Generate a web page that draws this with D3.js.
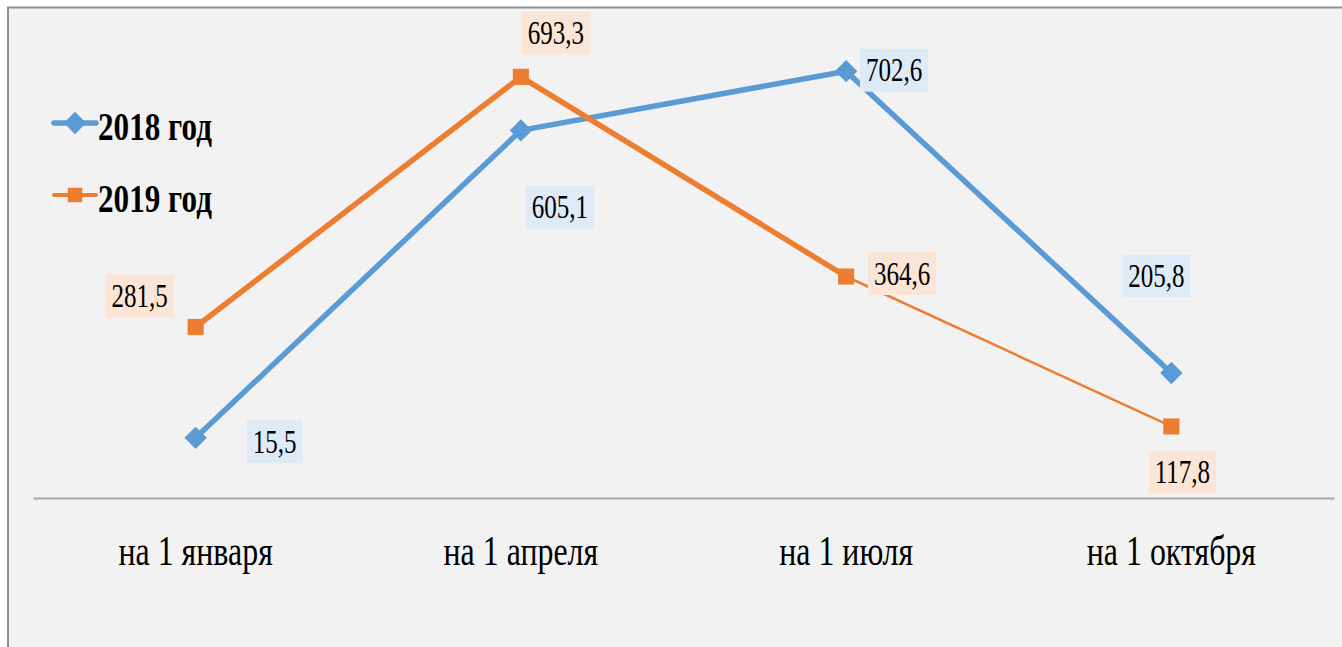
<!DOCTYPE html>
<html>
<head>
<meta charset="utf-8">
<script src="https://cdn.jsdelivr.net/npm/d3@7"></script>
<style>
  html, body { margin: 0; padding: 0; background: #fff; overflow: hidden; }
  svg { display: block; }
</style>
</head>
<body>
<div id="chart"></div>
<script>
// Chart data
const categories = ['на 1 января', 'на 1 апреля', 'на 1 июля', 'на 1 октября'];
const seriesNames = ['2018 год', '2019 год'];
// the first 2018 point is labelled 15,5 in the source but sits near 99 on the plot
const values2018 = [99, 605.1, 702.6, 205.8];
const values2019 = [281.5, 693.3, 364.6, 117.8];
const labels2018 = ['15,5', '605,1', '702,6', '205,8'];
const labels2019 = ['281,5', '693,3', '364,6', '117,8'];
const yDomain = [0, 800];

const width = 1342,
  height = 647,
  squeeze = 0.76,
  font = '"Liberation Serif", "Times New Roman", serif';

const seriesStyles = [
  {
    stroke: '#5b9bd5', fill: '#deebf7', marker: 'diamond', markerSize: 250,
    segWidths: [5.5, 5.5, 5.5],
    // label centre offsets from each point
    offsets: [[79, 4], [39, 77], [48, -1], [-15, -97]]
  },
  {
    stroke: '#ed7d31', fill: '#fbe5d6', marker: 'square', markerSize: 260,
    segWidths: [5.5, 5.5, 2.5],
    offsets: [[-56, -31], [35, -44], [56, -3], [11, 46]]
  }
];

const series = [
  {name: seriesNames[0], values: values2018, labels: labels2018},
  {name: seriesNames[1], values: values2019, labels: labels2019}
].map((s, i) => Object.assign({}, s, seriesStyles[i]));

const svg = d3.select('#chart').append('svg')
  .attr('width', width)
  .attr('height', height);

// chart area frame
svg.append('rect')
  .attr('x', 8)
  .attr('y', 7.5)
  .attr('width', width + 20)
  .attr('height', height + 20)
  .attr('fill', '#f2f2f2')
  .attr('stroke', '#8f8f8f')
  .attr('stroke-width', 2);

const x = d3.scaleBand()
  .domain(categories)
  .range([33, 1334]);

const y = d3.scaleLinear()
  .domain(yDomain)
  .range([498, 12]);

const cx = d => x(d) + x.bandwidth() / 2;

// category axis
const xAxis = d3.axisBottom(x).tickSize(0).tickSizeOuter(0);
const axisG = svg.append('g')
  .attr('transform', 'translate(0,' + y(0) + ')')
  .call(xAxis);

axisG.select('.domain')
  .attr('stroke', '#a6a6a6')
  .attr('stroke-width', 2);

axisG.selectAll('.tick text')
  .attr('y', 67)
  .attr('dy', 0)
  .attr('transform', 'scale(' + squeeze + ',1)')
  .attr('font-family', font)
  .attr('font-size', 42)
  .attr('fill', '#000');

/**
 * Marker: a square, turned 45 degrees for the diamond
 */
const markerPath = size => d3.symbol(d3.symbolSquare, size)();
const markerRotate = type => type === 'diamond' ? 45 : 0;

// lines, drawn segment by segment so widths can differ
series.forEach(s => {
  const g = svg.append('g').attr('class', 'series');
  const pts = s.values.map((v, i) => [cx(categories[i]), y(v)]);
  d3.pairs(pts).forEach((p, i) => {
    g.append('path')
      .attr('d', d3.line()(p))
      .attr('fill', 'none')
      .attr('stroke', s.stroke)
      .attr('stroke-width', s.segWidths[i])
      .attr('stroke-linecap', 'round');
  });
  g.selectAll('.marker')
    .data(pts)
    .enter()
    .append('path')
      .attr('class', 'marker')
      .attr('d', markerPath(s.markerSize))
      .attr('transform', p => 'translate(' + p[0] + ',' + p[1] + ') rotate(' + markerRotate(s.marker) + ')')
      .attr('fill', s.stroke);
});

// data labels, box sized to the text
series.forEach(s => {
  s.values.forEach((v, i) => {
    const lx = cx(categories[i]) + s.offsets[i][0],
      ly = y(v) + s.offsets[i][1];
    const g = svg.append('g')
      .attr('transform', 'translate(' + lx + ',' + ly + ')');
    const box = g.append('rect')
      .attr('y', -21.5)
      .attr('height', 43)
      .attr('fill', s.fill);
    const txt = g.append('text')
      .attr('y', 11)
      .attr('text-anchor', 'middle')
      .attr('transform', 'scale(' + squeeze + ',1)')
      .attr('font-family', font)
      .attr('font-size', 33)
      .attr('fill', '#000')
      .text(s.labels[i]);
    const w = txt.node().getComputedTextLength() * squeeze + 12;
    box.attr('x', -w / 2).attr('width', w);
  });
});

// legend
const legend = svg.append('g').attr('class', 'legend');
series.forEach((s, i) => {
  const ly = 123 + i * 72;
  legend.append('line')
    .attr('x1', 54)
    .attr('x2', 96)
    .attr('y1', ly)
    .attr('y2', ly)
    .attr('stroke', s.stroke)
    .attr('stroke-width', i === 0 ? 5.5 : 4)
    .attr('stroke-linecap', 'round');
  legend.append('path')
    .attr('d', markerPath(i === 0 ? 250 : 210))
    .attr('transform', 'translate(75,' + ly + ') rotate(' + markerRotate(s.marker) + ')')
    .attr('fill', s.stroke);
  legend.append('text')
    .attr('transform', 'translate(98,' + (ly + 17) + ') scale(' + squeeze + ',1)')
    .attr('font-family', font)
    .attr('font-size', 41)
    .attr('font-weight', 'bold')
    .attr('fill', '#000')
    .text(s.name);
});
</script>
</body>
</html>
